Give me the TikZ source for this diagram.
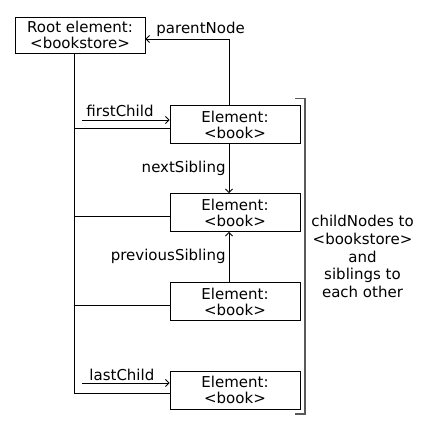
\documentclass[tikz,border=0pt]{standalone}
\usepackage{fontspec}
\setmainfont{DejaVu Sans}
\usetikzlibrary{positioning, arrows.meta}

\begin{document}
\begin{tikzpicture}[x=1pt, y=-1pt, line width=0.9pt,
    elem/.style={draw, minimum width=130pt, minimum height=38pt, inner sep=0pt,
        align=center, font=\fontsize{15}{16}\selectfont},
    link/.style={-{Straight Barb[length=3.5pt, width=7pt]}},
    lbl/.style={inner sep=0pt, font=\fontsize{15}{16}\selectfont}]
    \useasboundingbox (0,0) rectangle (434,437);
    \node[elem, minimum height=36pt] (root) at (80,35) {Root element:\\<bookstore>};
    \node[elem] (b1) at (235,124.5) {Element:\\<book>};
    \node[elem] (b2) at (235,212.5) {Element:\\<book>};
    \node[elem] (b3) at (235,301.5) {Element:\\<book>};
    \node[elem] (b4) at (235,390) {Element:\\<book>};
    % tree lines
    \draw ([xshift=-6pt]root.south) |- ([yshift=-3pt]b4.west);
    \foreach \b in {b1,b2,b3}
        \draw ([yshift=-4pt]\b.west) -| ([xshift=-6pt]root.south);
    % navigation arrows
    \coordinate (fc) at (82,120);
    \coordinate (lc) at (82,383);
    \draw[link] (fc) -- (fc -| b1.west);
    \draw[link] (lc) -- (lc -| b4.west);
    \draw[link] ([xshift=-6pt]b1.north) |- ([yshift=-4pt]root.east);
    \draw[link] ([xshift=-6pt]b1.south) -- ([xshift=-6pt]b2.north);
    \draw[link] ([xshift=-6pt]b3.north) -- ([xshift=-6pt]b2.south);
    \node[lbl, anchor=base west] (pn) at (156,33) {parentNode};
    \node[lbl, anchor=base west] (fcl) at (86,116.5) {firstChild};
    \node[lbl, anchor=base west] (lcl) at (89,380.5) {lastChild};
    \node[lbl, anchor=base east] (ns) at (226,172) {nextSibling};
    \node[lbl, anchor=base east] (ps) at (226,260) {previousSibling};
    % bracket
    \coordinate (brtop) at (295,98.5);
    \draw[black!65, line width=1.6pt] (brtop) -- ++(10,0) -- ++(0,315.5) -- ++(-10,0);
    \node[lbl, align=center, font=\fontsize{15}{17.7}\selectfont] (kids) at (362.5,256.5)
        {childNodes to\\<bookstore>\\and\\siblings to\\each other};
\end{tikzpicture}
\end{document}
